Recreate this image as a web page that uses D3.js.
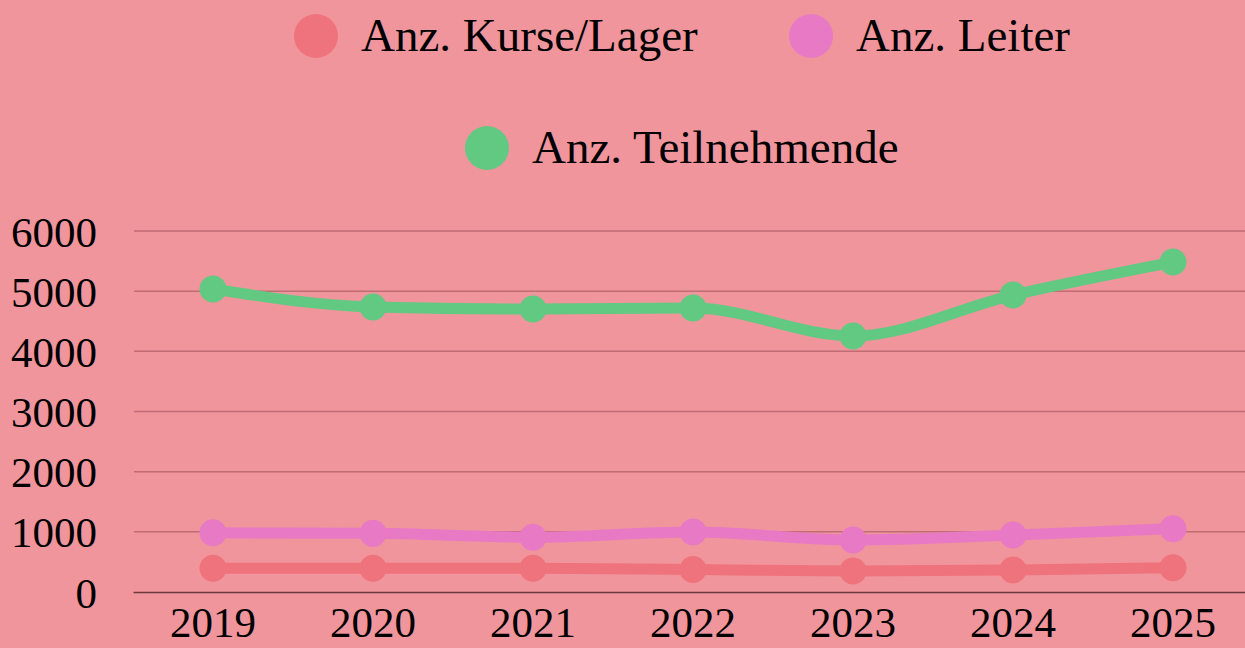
<!DOCTYPE html>
<html>
<head>
<meta charset="utf-8">
<script src="https://cdn.jsdelivr.net/npm/d3@7"></script>
<style>
  html, body { margin: 0; padding: 0; background: #f0959c; overflow: hidden; }
  svg { display: block; font-family: "Liberation Serif", "DejaVu Serif", serif; }
</style>
</head>
<body>
<div id="chart"></div>
<script>
// data
var years = ["2019", "2020", "2021", "2022", "2023", "2024", "2025"];
var kurse = [394, 394, 394, 374, 349, 366, 404];
var leiter = [985, 975, 909, 997, 864, 947, 1052];
var teilnehmende = [5036, 4737, 4703, 4720, 4255, 4936, 5484];
var yTicks = [0, 1000, 2000, 3000, 4000, 5000, 6000];

var seriesNames = ["Anz. Kurse/Lager", "Anz. Leiter", "Anz. Teilnehmende"];
var seriesColors = ["#ef737c", "#e879c4", "#62c983"];
var seriesValues = [kurse, leiter, teilnehmende];

var width = 1245, height = 648;

var svg = d3.select("#chart")
    .append("svg")
    .attr("width", width)
    .attr("height", height);

// scales
var x = d3.scaleBand()
    .domain(years)
    .range([133, 1253])
    .padding(0);

var y = d3.scaleLinear()
    .domain([0, 6000])
    .range([592, 231]);

// grid lines
svg.append("g")
    .selectAll("line")
    .data(yTicks.slice(1))
    .enter()
    .append("line")
    .attr("x1", 134)
    .attr("x2", width)
    .attr("y1", function(d) { return y(d); })
    .attr("y2", function(d) { return y(d); })
    .attr("stroke", "#bf6c75")
    .attr("stroke-width", 1.5);

// y axis labels
var yAxis = svg.append("g")
    .attr("transform", "translate(97,0)")
    .call(d3.axisLeft(y).tickValues(yTicks).tickSize(0).tickPadding(0).tickFormat(d3.format("d")));
yAxis.select(".domain").remove();
yAxis.selectAll("text")
    .attr("font-size", "43px")
    .attr("font-family", "Liberation Serif, serif")
    .attr("fill", "#000")
    .attr("dy", "0.35em");

// x axis
var xAxis = svg.append("g")
    .attr("transform", "translate(0,592)")
    .call(d3.axisBottom(x).tickSize(0).tickPadding(14));
xAxis.select(".domain")
    .attr("stroke", "#6b3a40")
    .attr("stroke-width", 1.5);
xAxis.selectAll("text")
    .attr("font-size", "43px")
    .attr("font-family", "Liberation Serif, serif")
    .attr("fill", "#000");

// lines and points
var line = d3.line()
    .x(function(d, i) { return x(years[i]) + x.bandwidth() / 2; })
    .y(function(d) { return y(d); })
    .curve(d3.curveMonotoneX);

for (var s = 0; s < seriesValues.length; s++) {
    svg.append("path")
        .datum(seriesValues[s])
        .attr("d", line)
        .attr("fill", "none")
        .attr("stroke", seriesColors[s])
        .attr("stroke-width", 11);

    svg.append("g")
        .selectAll("circle")
        .data(seriesValues[s])
        .enter()
        .append("circle")
        .attr("cx", function(d, i) { return x(years[i]) + x.bandwidth() / 2; })
        .attr("cy", function(d) { return y(d); })
        .attr("r", 13.5)
        .attr("fill", seriesColors[s]);
}

// legend
var legendPos = [
    { cx: 316, cy: 36 },
    { cx: 811, cy: 36 },
    { cx: 487, cy: 148 }
];
var legend = svg.append("g");
legend.selectAll("circle")
    .data(seriesNames)
    .enter()
    .append("circle")
    .attr("cx", function(d, i) { return legendPos[i].cx; })
    .attr("cy", function(d, i) { return legendPos[i].cy; })
    .attr("r", 22)
    .attr("fill", function(d, i) { return seriesColors[i]; });
legend.selectAll("text")
    .data(seriesNames)
    .enter()
    .append("text")
    .attr("x", function(d, i) { return legendPos[i].cx + 45; })
    .attr("y", function(d, i) { return legendPos[i].cy + 15; })
    .attr("font-size", "47px")
    .attr("fill", "#000")
    .text(function(d) { return d; });
</script>
</body>
</html>
